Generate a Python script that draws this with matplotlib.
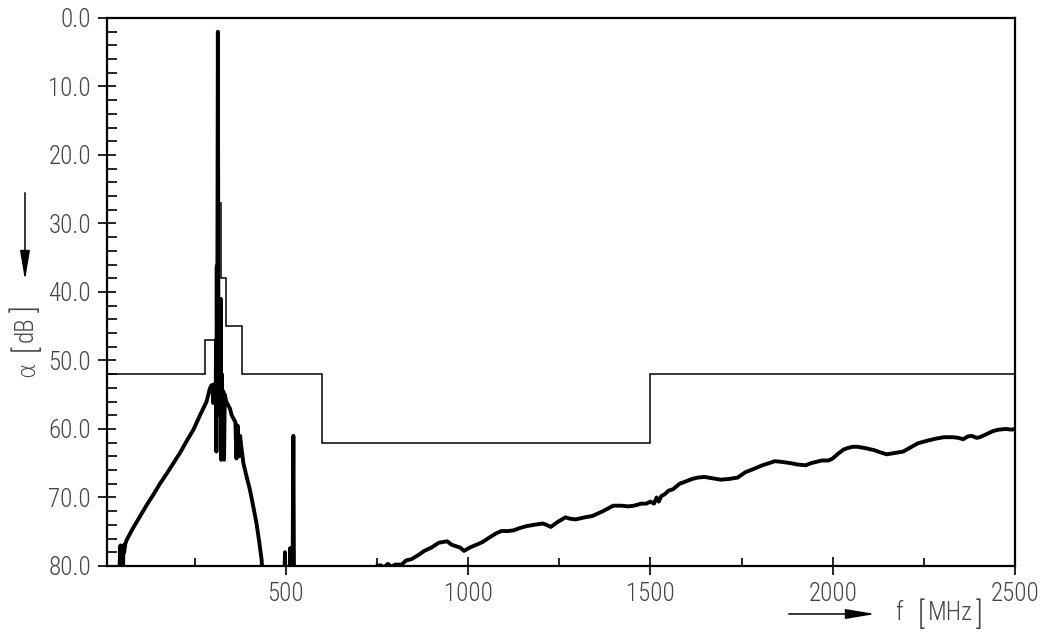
import numpy as np
import matplotlib
matplotlib.use("Agg")
import matplotlib.pyplot as plt

# mask (limit line), step edges in MHz and levels in dB
mask_edges = [10, 280, 308, 318, 323, 335, 379, 600, 1500, 2500]
mask_levels = [52, 47, 36, 27, 38, 45, 52, 62, 52]

# measured trace, values beyond 80 dB are off the scale
trace_f = [40, 47, 49, 53, 55, 57, 60, 64, 80, 100, 120, 137, 155, 174, 192, 210,
           228, 247, 265, 283, 292, 297, 300, 301, 303, 305, 308, 309, 310, 311,
           312, 314, 316, 318, 320, 322, 323, 325, 327, 329, 331, 333, 337, 342,
           347, 352, 357, 362, 365, 368, 372, 375, 378, 384, 393, 402, 411, 420,
           427, 434, 440,
           495, 498, 500, 510, 512, 516, 519, 521, 523,
           740, 750, 760, 770, 780, 790, 800, 818, 830, 845, 864, 880, 900, 920,
           943, 955, 966, 978, 989, 1005, 1023, 1040, 1057, 1075, 1091, 1110,
           1125, 1140, 1159, 1180, 1205, 1215, 1227, 1245, 1267, 1280, 1295,
           1320, 1341, 1370, 1398, 1420, 1440, 1455, 1475, 1489, 1500, 1510,
           1517, 1523, 1530, 1540, 1550, 1562, 1580, 1600, 1614, 1630, 1648,
           1670, 1693, 1715, 1739, 1761, 1785, 1807, 1825, 1841, 1860, 1886,
           1905, 1926, 1940, 1955, 1970, 1989, 2000, 2015, 2030, 2040, 2055,
           2068, 2090, 2114, 2130, 2148, 2170, 2193, 2210, 2233, 2260, 2284,
           2305, 2330, 2345, 2358, 2370, 2381, 2395, 2403, 2420, 2440, 2455,
           2475, 2490, 2500]
trace_db = [85, 77, 85, 85, 77, 78, 76.8, 76.2, 74.6, 72.8, 71.0, 69.6, 68.0, 66.5,
            65.0, 63.5, 61.8, 60.1, 58.0, 56.0, 54.1, 53.6, 54.5, 56.2, 53.5, 54,
            56, 47, 63.3, 36.3, 55, 2, 58, 48, 55, 41, 64.5, 52, 60, 54.5, 64.5,
            55, 56, 56.5, 57, 58, 58.5, 59, 64.3, 59.5, 64, 61, 62.5, 65, 67,
            68.9, 71.3, 73.8, 76.3, 79.1, 85,
            85, 78, 85, 85, 77.4, 82, 80, 61, 85,
            82, 80, 79.9, 80.2, 79.7, 80.1, 79.8, 79.8, 79.2, 79.0, 78.4, 77.8,
            77.3, 76.6, 76.4, 76.9, 77.1, 77.3, 77.8, 77.3, 76.9, 76.5, 75.9,
            75.3, 74.9, 74.9, 74.8, 74.5, 74.2, 74.0, 73.8, 74.0, 74.3, 73.6,
            72.9, 73.1, 73.2, 72.9, 72.7, 72.0, 71.2, 71.2, 71.3, 71.2, 70.9,
            70.9, 70.6, 70.9, 70.0, 70.6, 69.8, 69.5, 69.0, 68.8, 68.0, 67.6,
            67.3, 67.1, 67.0, 67.2, 67.4, 67.3, 67.1, 66.3, 65.8, 65.3, 65.0,
            64.7, 64.8, 65.0, 65.2, 65.3, 65.0, 64.8, 64.6, 64.6, 64.3, 63.6,
            63.0, 62.8, 62.6, 62.6, 62.8, 63.1, 63.4, 63.7, 63.5, 63.3, 62.8,
            62.1, 61.7, 61.4, 61.2, 61.2, 61.3, 61.5, 61.1, 61.0, 61.3, 61.2,
            60.8, 60.3, 60.1, 60.0, 60.1, 60.0]

x_major = [500, 1000, 1500, 2000, 2500]
x_minor = [250, 750, 1250, 1750, 2250]
y_major = [0, 10, 20, 30, 40, 50, 60, 70, 80]

# narrow plotter-like lettering
plt.rcParams['font.family'] = ['Roboto Condensed', 'DejaVu Sans']
plt.rcParams['font.weight'] = 'light'

txt = '#444444'
W, H = 1046, 635
fig = plt.figure(figsize=(10.46, 6.35), dpi=100)
ax = fig.add_axes([0.1023, 0.1087, 0.8681, 0.863])

ax.stairs(mask_levels, mask_edges, color='black', linewidth=1.1, baseline=None)
ax.plot(trace_f, trace_db, color='black', linewidth=2.8, solid_joinstyle='round')

ax.set_xlim(10, 2500)
ax.set_ylim(80, 0)
ax.set_xticks(x_major)
ax.set_xticks(x_minor, minor=True)
ax.set_yticks(y_major)
ax.set_yticks(np.arange(0, 81, 2), minor=True)
ax.set_yticklabels(['%.1f' % v for v in y_major])

for s in ax.spines.values():
    s.set_linewidth(1.6)

ax.tick_params(axis='both', which='major', direction='inout', length=13, width=1.2,
               labelsize=18, labelcolor=txt, pad=5)
ax.tick_params(axis='y', which='minor', direction='in', length=7, width=1.2)
ax.tick_params(axis='x', which='minor', direction='in', length=6, width=1.2)


def put(x, y, s, size=18, rot=0, family=None):
    kw = {} if family is None else {'family': family}
    fig.text(x / W, 1 - y / H, s, rotation=rot, ha='center', va='center',
             fontsize=size, color=txt, **kw)


# axis captions with arrows, brackets drawn taller than the letters
arrow = dict(arrowstyle='-|>,head_length=1.8,head_width=0.3', color='black', lw=1.1)
put(27, 369, 'α', size=17, rot=90, family=['DejaVu Sans'])
put(25, 348, '[', size=22, rot=90)
put(26, 329, 'dB', rot=90)
put(25, 309, ']', size=22, rot=90)
ax.annotate('', xy=(25 / W, 1 - 283 / H), xytext=(25 / W, 1 - 190 / H),
            xycoords='figure fraction', textcoords='figure fraction', arrowprops=arrow)

ax.annotate('', xy=(878 / W, 1 - 614 / H), xytext=(786 / W, 1 - 614 / H),
            xycoords='figure fraction', textcoords='figure fraction', arrowprops=arrow)
put(899, 613, 'f')
put(921, 615, '[', size=22)
put(950, 613, 'MHz')
put(979, 615, ']', size=22)

fig.savefig('out.png', dpi=100)
